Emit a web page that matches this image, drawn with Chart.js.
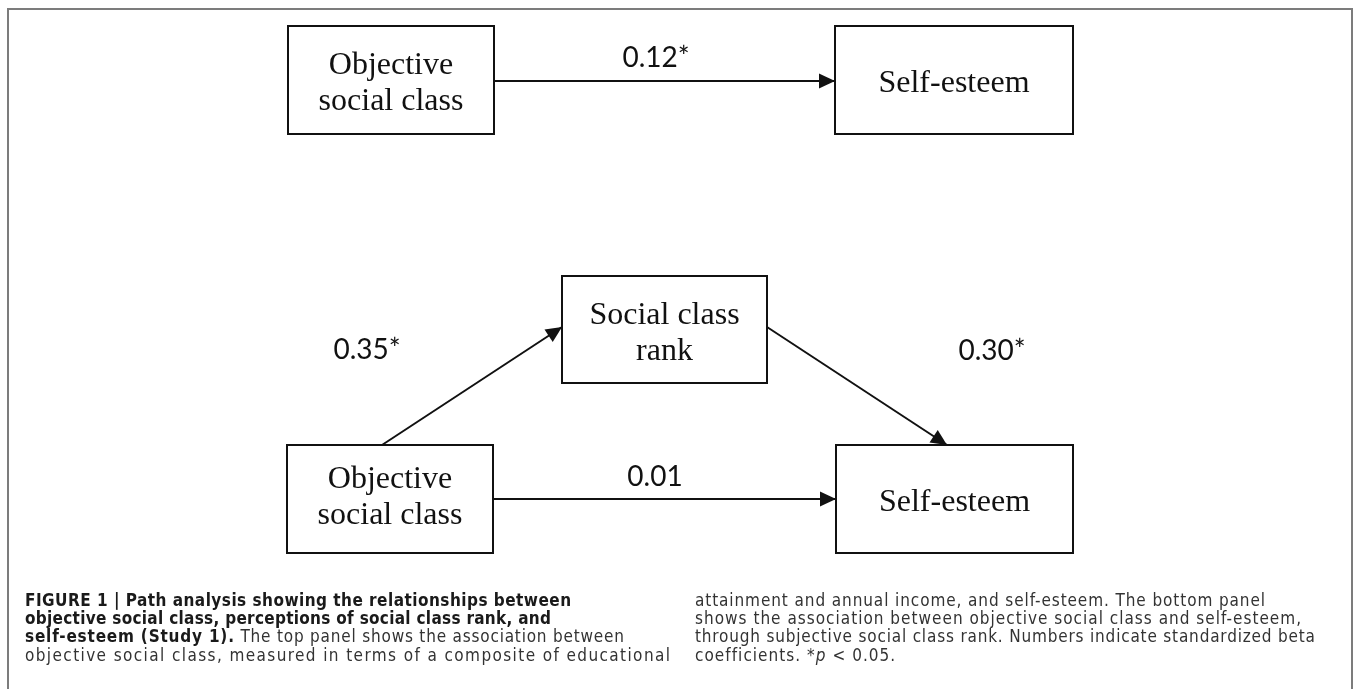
<!DOCTYPE html>
<html>
<head>
<meta charset="utf-8">
<script src="https://cdn.jsdelivr.net/npm/chart.js@4.4.0/dist/chart.umd.min.js"></script>
<style>
  html, body { margin:0; padding:0; background:#fff; }
  body { width:1354px; height:689px; position:relative; overflow:hidden; }
  #frame { position:absolute; left:7px; top:8px; width:1346px; height:700px; border:2px solid #7c7c7c; box-sizing:border-box; }
  #wrap { position:absolute; left:0; top:0; width:1354px; height:689px; }
  .cap { position:absolute; white-space:nowrap; font-family:"DejaVu Sans Condensed","Liberation Sans Narrow","Arial Narrow","Liberation Sans",Arial,sans-serif; font-stretch:condensed; font-size:17px; line-height:18px; color:#333; }
  .cap b { color:#1a1a1a; font-weight:bold; }
</style>
</head>
<body>
<div id="frame"></div>
<div id="wrap"><canvas id="c" width="1354" height="689"></canvas></div>
<div id="caption"></div>
<script>
// ---- diagram data (diagram units: x 0..1354, y 0..689 from top) ----
const nodeLabels = [["Objective","social class"], ["Self-esteem"], ["Social class","rank"], ["Objective","social class"], ["Self-esteem"]];
const nodeX = [391, 954, 664.5, 390, 954.5];
const nodeY = [80, 80, 329.5, 499, 499];
const nodeW = [206, 238, 205, 206, 237];
const nodeH = [108, 108, 107, 108, 108];
const nodeTextShift = [0, 0, 0, -5, 0];

const pathX1 = [494, 382, 767, 493];
const pathY1 = [81, 445, 327, 499];
const pathX2 = [835, 562, 947, 836];
const pathY2 = [81, 327, 445, 499];

const coefLabels = ["0.12*", "0.35*", "0.30*", "0.01"];
const coefX = [656, 367, 992, 655];
const coefY = [67, 359, 360, 486];

const captionLeft = [
  "<b>FIGURE 1 | Path analysis showing the relationships between</b>",
  "<b>objective social class, perceptions of social class rank, and</b>",
  "<b>self-esteem (Study 1).</b> The top panel shows the association between",
  "objective social class, measured in terms of a composite of educational"
];
const captionLeftEnds = [571, 551, 624, 670];
const captionRight = [
  "attainment and annual income, and self-esteem. The bottom panel",
  "shows the association between objective social class and self-esteem,",
  "through subjective social class rank. Numbers indicate standardized beta",
  "coefficients. *<i>p</i> &lt; 0.05."
];
const captionRightEnds = [1265, 1301, 1315, 895];

// ---- build datasets ----
const datasets = [];
nodeX.forEach((cx, i) => {
  const hw = nodeW[i] / 2, hh = nodeH[i] / 2, cy = nodeY[i];
  datasets.push({
    data: [{x:cx-hw,y:cy-hh},{x:cx+hw,y:cy-hh},{x:cx+hw,y:cy+hh},{x:cx-hw,y:cy+hh},{x:cx-hw,y:cy-hh}],
    showLine:true, borderColor:'#111', borderWidth:2, pointRadius:0, fill:false, tension:0,
    borderJoinStyle:'miter', borderCapStyle:'square'
  });
});
pathX1.forEach((x1, i) => {
  datasets.push({
    data: [{x:x1,y:pathY1[i]},{x:pathX2[i],y:pathY2[i]}],
    showLine:true, borderColor:'#111', borderWidth:2, pointRadius:0, fill:false, tension:0
  });
});

const diagramPlugin = {
  id:'diagram',
  afterDatasetsDraw(chart) {
    const ctx = chart.ctx, xs = chart.scales.x, ys = chart.scales.y;
    ctx.save();
    ctx.fillStyle = '#111';
    pathX1.forEach((x1, i) => {
      const ax = xs.getPixelForValue(x1), ay = ys.getPixelForValue(pathY1[i]);
      const bx = xs.getPixelForValue(pathX2[i]), by = ys.getPixelForValue(pathY2[i]);
      const ang = Math.atan2(by - ay, bx - ax);
      const L = 16, W = 7.5;
      ctx.beginPath();
      ctx.moveTo(bx, by);
      ctx.lineTo(bx - L*Math.cos(ang) + W*Math.sin(ang), by - L*Math.sin(ang) - W*Math.cos(ang));
      ctx.lineTo(bx - L*Math.cos(ang) - W*Math.sin(ang), by - L*Math.sin(ang) + W*Math.cos(ang));
      ctx.closePath();
      ctx.fill();
    });
    ctx.textAlign = 'center';
    ctx.textBaseline = 'alphabetic';
    ctx.font = '32px "Liberation Serif", "Times New Roman", serif';
    nodeLabels.forEach((lines, i) => {
      const px = xs.getPixelForValue(nodeX[i]);
      const py = ys.getPixelForValue(nodeY[i]) + nodeTextShift[i];
      if (lines.length === 1) {
        ctx.fillText(lines[0], px, py + 12);
      } else {
        ctx.fillText(lines[0], px, py - 6);
        ctx.fillText(lines[1], px, py + 30);
      }
    });
    ctx.font = '28px Lato, "Open Sans", sans-serif';
    coefLabels.forEach((t, i) => {
      ctx.fillText(t, xs.getPixelForValue(coefX[i]), ys.getPixelForValue(coefY[i]));
    });
    ctx.restore();
  }
};

new Chart(document.getElementById('c'), {
  type:'scatter',
  data:{ datasets },
  options:{
    responsive:false, animation:false, events:[],
    layout:{ padding:0 },
    plugins:{ legend:{display:false}, tooltip:{enabled:false} },
    scales:{
      x:{ type:'linear', min:0, max:1354, display:false },
      y:{ type:'linear', min:0, max:689, reverse:true, display:false }
    }
  },
  plugins:[diagramPlugin]
});

// ---- caption ----
const cap = document.getElementById('caption');
function addLines(lines, ends, left) {
  lines.forEach((html, i) => {
    const d = document.createElement('div');
    d.className = 'cap';
    d.style.left = left + 'px';
    d.style.top = (591 + i * 18.2) + 'px';
    d.innerHTML = html;
    cap.appendChild(d);
    const w0 = d.getBoundingClientRect().width;
    const n = d.textContent.length;
    const ls = ((ends[i] - left) - w0) / Math.max(1, n - 1);
    d.style.letterSpacing = ls.toFixed(3) + 'px';
  });
}
addLines(captionLeft, captionLeftEnds, 25);
addLines(captionRight, captionRightEnds, 695);
</script>
</body>
</html>
